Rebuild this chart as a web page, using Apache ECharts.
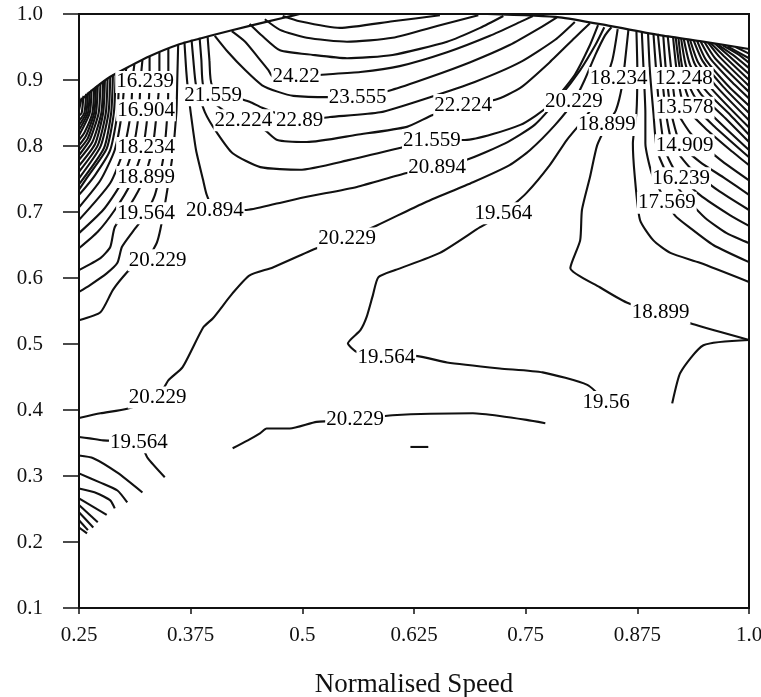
<!DOCTYPE html>
<html>
<head>
<meta charset="utf-8">
<script src="https://cdn.jsdelivr.net/npm/echarts/dist/echarts.min.js"></script>
<style>
  html, body { margin: 0; padding: 0; background: #fff; }
  #chart { width: 761px; height: 697px; }
</style>
</head>
<body>
<div id="chart"></div>
<script>
// Axis ticks (normalised speed on x, second normalised variable on y)
const xTickLabels = ['0.25', '0.375', '0.5', '0.625', '0.75', '0.875', '1.0'];
const yTickLabels = ['0.1', '0.2', '0.3', '0.4', '0.5', '0.6', '0.7', '0.8', '0.9', '1.0'];

// Edge of the mapped region (upper envelope)
const envelope = [
  [[0.250,0.867],[0.268,0.888],[0.285,0.905],[0.307,0.921],[0.329,0.936],[0.360,0.953],[0.397,0.967],[0.441,0.982],[0.478,0.994],[0.497,1.0]],
  [[0.707,1.0],[0.788,0.995],[0.844,0.982],[0.900,0.968],[0.945,0.959],[1.0,0.947]]
];

// Contours around the crest near the top of the map
const crestContours = [
  [[0.478,0.997],[0.497,0.989],[0.542,0.979],[0.601,0.989],[0.654,0.998]],
  [[0.458,0.992],[0.475,0.976],[0.505,0.964],[0.550,0.958],[0.601,0.964],[0.654,0.983],[0.697,0.998]],
  [[0.441,0.985],[0.455,0.967],[0.475,0.945],[0.512,0.938],[0.550,0.933],[0.601,0.938],[0.662,0.958],[0.699,0.979],[0.725,0.997]],
  // 24.22
  [[0.421,0.974],[0.436,0.958],[0.450,0.935],[0.462,0.915],[0.467,0.905],[0.493,0.905],[0.522,0.908],[0.565,0.912],[0.609,0.921],[0.662,0.942],[0.710,0.967],[0.744,0.988],[0.758,0.997]],
  // 23.555
  [[0.402,0.967],[0.417,0.942],[0.436,0.915],[0.455,0.892],[0.473,0.882],[0.490,0.876],[0.529,0.874],[0.562,0.874],[0.600,0.885],[0.640,0.903],[0.688,0.927],[0.732,0.953],[0.766,0.979],[0.785,0.995]],
  // 22.89
  [[0.394,0.965],[0.396,0.930],[0.399,0.892],[0.425,0.874],[0.441,0.867],[0.455,0.858],[0.481,0.845],[0.497,0.839],[0.531,0.844],[0.587,0.851],[0.643,0.874],[0.693,0.897],[0.744,0.927],[0.783,0.961],[0.805,0.988]],
  // 22.224
  [[0.385,0.964],[0.387,0.930],[0.389,0.892],[0.402,0.865],[0.419,0.847],[0.434,0.839],[0.458,0.824],[0.472,0.809],[0.505,0.806],[0.561,0.817],[0.617,0.829],[0.646,0.847],[0.680,0.862],[0.716,0.870],[0.744,0.888],[0.777,0.927],[0.805,0.964],[0.822,0.986]],
  // 21.559
  [[0.376,0.961],[0.378,0.930],[0.381,0.892],[0.391,0.851],[0.404,0.821],[0.422,0.789],[0.453,0.768],[0.497,0.764],[0.553,0.779],[0.609,0.797],[0.645,0.809],[0.682,0.809],[0.744,0.832],[0.777,0.862],[0.805,0.908],[0.822,0.953],[0.831,0.983]],
  // 20.894
  [[0.368,0.958],[0.370,0.915],[0.372,0.885],[0.375,0.851],[0.381,0.794],[0.389,0.748],[0.393,0.726],[0.402,0.703],[0.436,0.703],[0.469,0.712],[0.505,0.723],[0.561,0.738],[0.617,0.759],[0.651,0.768],[0.684,0.779],[0.727,0.804],[0.760,0.832],[0.788,0.874],[0.811,0.915],[0.828,0.953],[0.838,0.980]]
];

// Contours through the middle and lower part of the map
const middleContours = [
  // 20.229
  [[0.250,0.388],[0.274,0.395],[0.304,0.402],[0.338,0.419],[0.350,0.445],[0.366,0.465],[0.389,0.525],[0.400,0.539],[0.422,0.577],[0.441,0.604],[0.467,0.616],[0.516,0.645],[0.550,0.660],[0.584,0.680],[0.635,0.713],[0.691,0.745],[0.732,0.771],[0.755,0.794],[0.783,0.832],[0.804,0.868],[0.816,0.900],[0.828,0.938],[0.839,0.968],[0.846,0.980]],
  // 19.564
  [[0.840,0.412],[0.819,0.438],[0.769,0.457],[0.721,0.463],[0.662,0.472],[0.626,0.482],[0.594,0.480],[0.561,0.488],[0.551,0.501],[0.565,0.521],[0.572,0.541],[0.579,0.574],[0.585,0.601],[0.604,0.612],[0.654,0.638],[0.699,0.677],[0.725,0.698],[0.751,0.729],[0.777,0.771],[0.796,0.809],[0.816,0.842],[0.833,0.877],[0.847,0.930],[0.853,0.977]],
  // 18.899
  [[0.865,0.976],[0.862,0.938],[0.858,0.892],[0.851,0.854],[0.841,0.832],[0.830,0.801],[0.822,0.753],[0.813,0.703],[0.811,0.657],[0.800,0.615],[0.833,0.586],[0.863,0.563],[0.901,0.547],[0.940,0.529],[1.0,0.506]],
  [[1.0,0.506],[0.949,0.498],[0.923,0.456],[0.914,0.410]],
  // lower 20.229
  [[0.422,0.342],[0.439,0.354],[0.453,0.365],[0.460,0.372],[0.486,0.372],[0.516,0.382],[0.559,0.385],[0.601,0.392],[0.691,0.395],[0.721,0.391],[0.751,0.385],[0.772,0.380]],
  [[0.621,0.344],[0.641,0.344]],
  // lower-left 19.564
  [[0.250,0.359],[0.262,0.357],[0.277,0.354],[0.317,0.351],[0.327,0.327],[0.346,0.298]]
];

// Steep contours crowding the upper-left side
const leftFan = [
  [[0.361,0.953],[0.360,0.900],[0.359,0.850],[0.354,0.779],[0.346,0.710],[0.341,0.673],[0.337,0.653],[0.329,0.635],[0.313,0.620],[0.304,0.609],[0.288,0.582],[0.274,0.548],[0.250,0.536]],
  [[0.350,0.947],[0.350,0.900],[0.349,0.850],[0.344,0.779],[0.335,0.726],[0.324,0.695],[0.310,0.670],[0.298,0.647],[0.293,0.623],[0.281,0.607],[0.262,0.589],[0.250,0.579]],
  [[0.340,0.942],[0.340,0.900],[0.337,0.850],[0.332,0.794],[0.322,0.748],[0.307,0.710],[0.290,0.677],[0.285,0.647],[0.274,0.630],[0.250,0.612]],
  [[0.329,0.936],[0.329,0.900],[0.327,0.850],[0.321,0.794],[0.307,0.741],[0.290,0.703],[0.271,0.670],[0.250,0.645]],
  [[0.321,0.930],[0.319,0.900],[0.317,0.850],[0.310,0.794],[0.296,0.741],[0.277,0.703],[0.250,0.668]],
  [[0.312,0.924],[0.310,0.900],[0.308,0.850],[0.300,0.794],[0.285,0.744],[0.250,0.688]],
  [[0.303,0.918],[0.301,0.900],[0.298,0.850],[0.290,0.794],[0.274,0.748],[0.250,0.707]],
  [[0.295,0.912],[0.293,0.850],[0.285,0.794],[0.268,0.756],[0.250,0.726]],
  [[0.291,0.910],[0.289,0.850],[0.281,0.796],[0.259,0.752],[0.250,0.734]],
  [[0.288,0.908],[0.286,0.850],[0.278,0.797],[0.250,0.742]],
  [[0.285,0.905],[0.283,0.850],[0.274,0.799],[0.250,0.751]],
  [[0.282,0.903],[0.280,0.850],[0.271,0.801],[0.250,0.761]],
  [[0.279,0.900],[0.277,0.850],[0.268,0.803],[0.250,0.770]],
  [[0.277,0.898],[0.275,0.850],[0.265,0.806],[0.250,0.779]],
  [[0.274,0.895],[0.272,0.850],[0.262,0.809],[0.250,0.786]],
  [[0.271,0.892],[0.269,0.850],[0.260,0.812],[0.250,0.794]],
  [[0.269,0.890],[0.267,0.850],[0.258,0.816],[0.250,0.801]],
  [[0.267,0.888],[0.265,0.850],[0.256,0.820],[0.250,0.809]],
  [[0.264,0.885],[0.262,0.850],[0.250,0.816]],
  [[0.262,0.883],[0.260,0.850],[0.250,0.824]],
  [[0.260,0.881],[0.258,0.850],[0.250,0.831]],
  [[0.258,0.879],[0.256,0.850],[0.250,0.838]],
  [[0.255,0.876],[0.253,0.850],[0.250,0.846]],
  [[0.253,0.873],[0.250,0.854]]
];

// Steep contours crowding the upper-right side
const rightFan = [
  [[0.874,0.974],[0.875,0.915],[0.874,0.850],[0.870,0.804],[0.872,0.756],[0.878,0.688],[0.893,0.657],[0.912,0.638],[0.945,0.623],[1.0,0.594]],
  [[0.880,0.973],[0.882,0.915],[0.884,0.850],[0.884,0.804],[0.891,0.759],[0.903,0.726],[0.917,0.695],[0.934,0.676],[0.960,0.650],[1.0,0.624]],
  [[0.887,0.971],[0.889,0.915],[0.893,0.850],[0.897,0.794],[0.909,0.756],[0.932,0.718],[0.951,0.691],[0.975,0.668],[1.0,0.653]],
  [[0.893,0.971],[0.896,0.915],[0.900,0.850],[0.906,0.794],[0.918,0.761],[0.945,0.726],[0.979,0.695],[1.0,0.679]],
  [[0.898,0.970],[0.902,0.915],[0.907,0.850],[0.915,0.801],[0.934,0.767],[0.965,0.733],[1.0,0.703]],
  [[0.904,0.968],[0.907,0.915],[0.913,0.850],[0.923,0.804],[0.945,0.776],[0.973,0.751],[1.0,0.726]],
  [[0.909,0.967],[0.913,0.915],[0.919,0.854],[0.936,0.817],[0.968,0.779],[1.0,0.748]],
  [[0.915,0.965],[0.919,0.915],[0.927,0.862],[0.951,0.827],[0.979,0.794],[1.0,0.771]],
  [[0.918,0.964],[0.923,0.915],[0.934,0.868],[0.961,0.830],[1.0,0.783]],
  [[0.921,0.964],[0.926,0.915],[0.940,0.873],[0.970,0.832],[1.0,0.794]],
  [[0.924,0.963],[0.930,0.919],[0.946,0.879],[0.975,0.840],[1.0,0.806]],
  [[0.927,0.962],[0.934,0.923],[0.951,0.885],[0.979,0.847],[1.0,0.817]],
  [[0.931,0.962],[0.939,0.925],[0.958,0.887],[1.0,0.828]],
  [[0.934,0.961],[0.943,0.927],[0.965,0.888],[1.0,0.839]],
  [[0.938,0.960],[0.948,0.929],[0.971,0.890],[1.0,0.850]],
  [[0.942,0.959],[0.952,0.930],[0.976,0.892],[1.0,0.861]],
  [[0.946,0.958],[0.957,0.932],[0.980,0.898],[1.0,0.872]],
  [[0.950,0.958],[0.962,0.933],[0.984,0.903],[1.0,0.882]],
  [[0.954,0.957],[0.967,0.935],[1.0,0.891]],
  [[0.957,0.956],[0.972,0.936],[1.0,0.900]],
  [[0.962,0.955],[0.977,0.937],[1.0,0.909]],
  [[0.966,0.953],[0.982,0.938],[1.0,0.918]],
  [[0.971,0.952],[0.990,0.937],[1.0,0.926]],
  [[0.976,0.951],[1.0,0.933]],
  [[0.985,0.950],[1.0,0.940]]
];

// Short contours in the lower-left corner
const cornerFan = [
  [[0.250,0.331],[0.266,0.327],[0.293,0.305],[0.321,0.275]],
  [[0.250,0.304],[0.274,0.290],[0.293,0.278],[0.304,0.260]],
  [[0.250,0.281],[0.270,0.274],[0.285,0.263],[0.290,0.251]],
  [[0.250,0.266],[0.281,0.241]],
  [[0.250,0.256],[0.271,0.230]],
  [[0.250,0.245],[0.266,0.222]],
  [[0.250,0.233],[0.260,0.218]],
  [[0.250,0.222],[0.259,0.213]]
];

// Contour level labels
const labelTexts = ['16.239','16.904','18.234','18.899','19.564','20.229',
  '21.559','22.224','22.89','24.22','23.555','20.894',
  '22.224','21.559','20.894','19.564','20.229','19.564','20.229','19.564','20.229','19.56',
  '20.229','18.234','18.899','12.248','13.578','14.909','16.239','17.569','18.899'];
const labelX = [0.324,0.325,0.325,0.325,0.325,0.338,
  0.400,0.434,0.497,0.493,0.562,0.402,
  0.680,0.645,0.651,0.725,0.550,0.594,0.338,0.317,0.559,0.840,
  0.804,0.854,0.841,0.927,0.928,0.928,0.924,0.908,0.901];
const labelY = [0.897,0.854,0.797,0.753,0.698,0.627,
  0.877,0.839,0.839,0.905,0.874,0.703,
  0.862,0.809,0.768,0.698,0.660,0.480,0.419,0.351,0.385,0.412,
  0.868,0.903,0.832,0.903,0.858,0.801,0.751,0.714,0.547];

const serif = '"Liberation Serif", "Times New Roman", serif';
const ink = '#111';

const series = [];
function addLines(list, width) {
  list.forEach(function (pts) {
    series.push({
      type: 'line', data: pts, showSymbol: false, symbol: 'none',
      smooth: 0.2, silent: true, animation: false, z: 2,
      lineStyle: { color: ink, width: width }
    });
  });
}
addLines(envelope, 2.2);
addLines(crestContours, 2.1);
addLines(middleContours, 2.1);
addLines(leftFan, 2.1);
addLines(rightFan, 2.1);
addLines(cornerFan, 2.1);

series.push({
  type: 'scatter', symbolSize: 0, silent: true, animation: false, z: 10,
  itemStyle: { opacity: 1, color: '#fff' },
  emphasis: { disabled: true },
  data: labelTexts.map(function (t, i) { return { name: t, value: [labelX[i], labelY[i]] }; }),
  label: {
    show: true, position: 'inside', formatter: function (p) { return p.name; },
    fontFamily: serif, fontSize: 21, color: '#000', opacity: 1,
    textBorderWidth: 0, textBorderColor: 'transparent', textShadowBlur: 0,
    backgroundColor: '#fff', padding: [1, 1, 0, 1]
  }
});

function tickText(list, v) {
  const s = list.find(function (t) { return Math.abs(parseFloat(t) - v) < 1e-6; });
  return s === undefined ? '' : s;
}

const chart = echarts.init(document.getElementById('chart'), null, { renderer: 'canvas' });
chart.setOption({
  backgroundColor: '#fff',
  animation: false,
  grid: {
    left: 79, right: 12, top: 14, bottom: 89,
    containLabel: false, outerBoundsMode: 'none',
    show: true, borderColor: ink, borderWidth: 2, backgroundColor: 'transparent'
  },
  xAxis: {
    type: 'value', min: 0.25, max: 1.0, interval: 0.125,
    name: 'Normalised Speed', nameLocation: 'middle', nameGap: 63,
    nameTextStyle: { fontFamily: serif, fontSize: 27, color: ink },
    axisLine: { show: true, onZero: false, lineStyle: { color: ink, width: 2 } },
    axisTick: { show: true, inside: false, length: 6, lineStyle: { color: ink, width: 1.5 } },
    axisLabel: { margin: 17, fontFamily: serif, fontSize: 21, color: ink,
      formatter: function (v) { return tickText(xTickLabels, v); } },
    splitLine: { show: false }
  },
  yAxis: {
    type: 'value', min: 0.1, max: 1.0, interval: 0.1,
    axisLine: { show: true, onZero: false, lineStyle: { color: ink, width: 2 } },
    axisTick: { show: true, inside: false, length: 16, lineStyle: { color: ink, width: 1.5 } },
    axisLabel: { margin: 36, fontFamily: serif, fontSize: 21, color: ink,
      formatter: function (v) { return tickText(yTickLabels, v); } },
    splitLine: { show: false }
  },
  series: series
});
</script>
</body>
</html>
